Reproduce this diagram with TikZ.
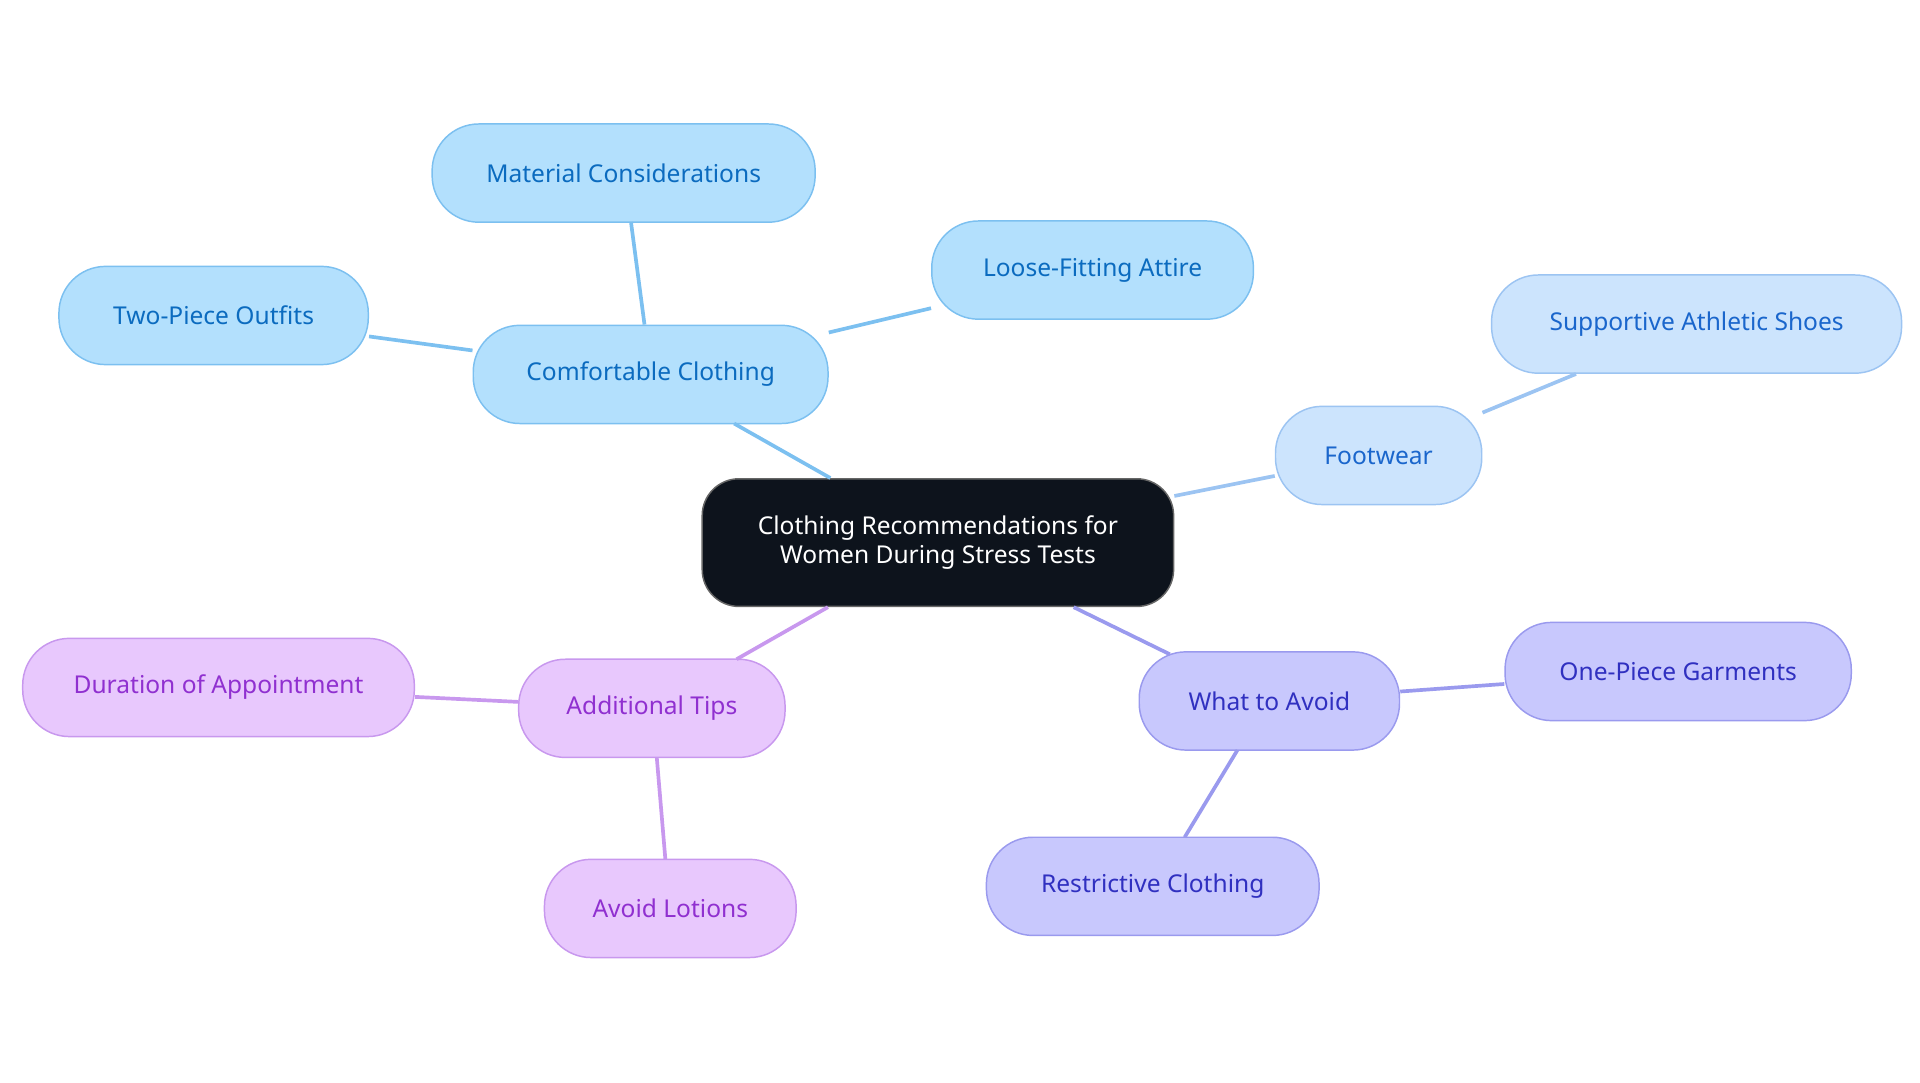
\documentclass[tikz,border=0pt]{standalone}
\usepackage{fontspec}
\setmainfont{Noto Sans}
\begin{document}
\begin{tikzpicture}[x=1pt,y=-1pt,
  box/.style={rounded corners=38pt,minimum height=80pt,inner sep=0pt,line width=1.2pt,font=\fontsize{20}{24}\selectfont,align=center},
  blu/.style={box,fill=cB,draw=sB,text=tB},
  ftw/.style={box,fill=cF,draw=sF,text=tF},
  vio/.style={box,fill=cV,draw=sV,text=tV},
  pnk/.style={box,fill=cP,draw=sP,text=tP},
  ln/.style={line width=3pt}]
\definecolor{cB}{HTML}{B3E0FD}\definecolor{sB}{HTML}{7CC0F0}\definecolor{tB}{HTML}{0B6BBF}
\definecolor{cF}{HTML}{CCE4FD}\definecolor{sF}{HTML}{9CC4F2}\definecolor{tF}{HTML}{1A66CC}
\definecolor{cV}{HTML}{C8C8FD}\definecolor{sV}{HTML}{9A9AEE}\definecolor{tV}{HTML}{3030C0}
\definecolor{cP}{HTML}{E8C8FD}\definecolor{sP}{HTML}{C898EE}\definecolor{tP}{HTML}{9030D0}
\definecolor{cC}{HTML}{0D131C}
\useasboundingbox (0,0) rectangle (1564,882);
\node[box,fill=cC,draw=black!60,text=white,minimum width=384pt,minimum height=104pt,rounded corners=30pt] (c) at (764,442) {Clothing Recommendations for\\Women During Stress Tests};
\node[blu,minimum width=289pt] (cc) at (530,305) {Comfortable Clothing};
\node[blu,minimum width=312pt] (mc) at (508,141) {Material Considerations};
\node[blu,minimum width=262pt] (lf) at (890,220) {Loose-Fitting Attire};
\node[blu,minimum width=252pt] (tp) at (174,257) {Two-Piece Outfits};
\node[ftw,minimum width=168pt] (fw) at (1123,371) {Footwear};
\node[ftw,minimum width=334pt] (sa) at (1382,264) {Supportive Athletic Shoes};
\node[vio,minimum width=212pt] (wa) at (1034,571) {What to Avoid};
\node[vio,minimum width=282pt] (op) at (1367,547) {One-Piece Garments};
\node[vio,minimum width=271pt] (rc) at (939,722) {Restrictive Clothing};
\node[pnk,minimum width=217pt] (at) at (531,577) {Additional Tips};
\node[pnk,minimum width=319pt] (da) at (178,560) {Duration of Appointment};
\node[pnk,minimum width=205pt] (al) at (546,740) {Avoid Lotions};
\begin{scope}[on background layer/.try]
\end{scope}
\begin{pgfinterruptboundingbox}\end{pgfinterruptboundingbox}
\draw[ln,sB] (c.north west)++(105,0) coordinate (c1);
\draw[ln,sB] (c1) -- (598,345);
\draw[ln,sB] (cc.north) ++(-5,0) coordinate (cc1);
\draw[ln,sB] (cc1) -- (514,181);
\draw[ln,sB] (cc) -- (lf);
\draw[ln,sB] (cc) -- (tp);
\draw[ln,sF] (c) -- (fw);
\draw[ln,sF] (fw) -- (sa);
\draw[ln,sV] (c.south east)++(-82,0) coordinate (c2);
\draw[ln,sV] (c2) -- (953,533);
\draw[ln,sV] (wa) -- (op);
\draw[ln,sV] (1008,611) coordinate (w1) -- (965,682);
\draw[ln,sP] (c.south west)++(103,0) coordinate (c3);
\draw[ln,sP] (c3) -- (600,537);
\draw[ln,sP] (at) -- (da);
\draw[ln,sP] (535,617) coordinate (a1) -- (542,700);
\end{tikzpicture}
\end{document}
